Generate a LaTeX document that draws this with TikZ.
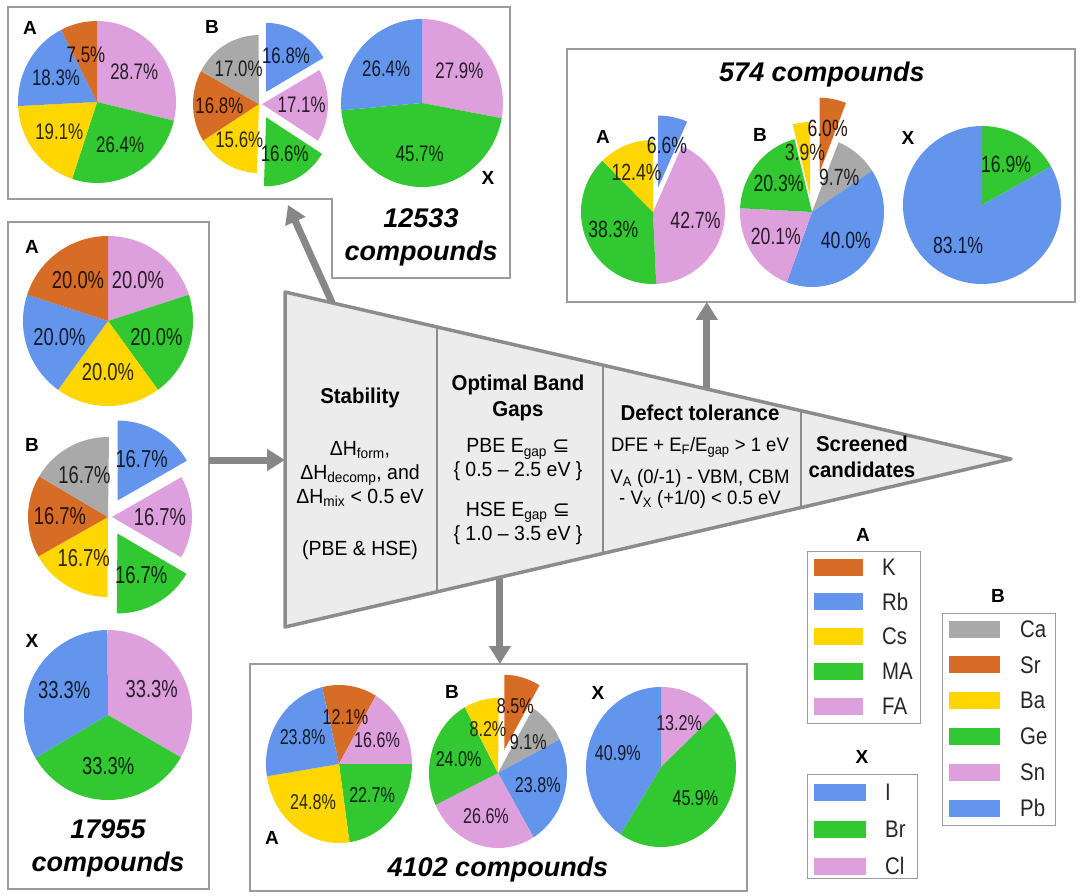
\documentclass[tikz,border=0pt]{standalone}
\usepackage{fontspec}
\setmainfont{Liberation Sans}
\newfontfamily\pctfont[FakeStretch=0.75]{Liberation Sans}
\newfontfamily\legfont[FakeStretch=0.85]{Liberation Sans}
\newfontfamily\funfont[FakeStretch=0.95]{Liberation Sans}
\newfontfamily\symfont{DejaVu Sans}
\usetikzlibrary{calc,arrows.meta}

% Colori
\definecolor{pieorange}{RGB}{214,108,38}
\definecolor{pieblue}{RGB}{100,149,237}
\definecolor{pieyellow}{RGB}{255,214,0}
\definecolor{piegreen}{RGB}{50,200,50}
\definecolor{piepink}{RGB}{221,160,221}
\definecolor{piegray}{RGB}{169,169,169}
\definecolor{boxgray}{RGB}{155,155,155}
\definecolor{arrowgray}{RGB}{135,135,135}
\definecolor{funfill}{RGB}{236,236,236}
\definecolor{funedge}{RGB}{140,140,140}

\def\pctsize{23}

\tikzset{
  panel/.style={draw=boxgray, line width=1.3pt, inner sep=0pt, outer sep=0pt},
  pctlabel/.style={font=\pctfont\fontsize{\pctsize}{\pctsize}\selectfont, inner sep=0pt},
  pieletter/.style={font=\bfseries\fontsize{19}{19}\selectfont, inner sep=0pt},
  cmpdtitle/.style={font=\bfseries\itshape\fontsize{27}{33}\selectfont, align=center, inner sep=0pt},
  funtext/.style={font=\funfont\fontsize{20.5}{24}\selectfont, align=center, inner sep=0pt},
  funhead/.style={font=\funfont\bfseries\fontsize{21.5}{26}\selectfont, align=center, inner sep=0pt},
  flowarrow/.style={draw=arrowgray, line width=7pt, -{Triangle[width=21pt,length=18pt]}},
  legtitle/.style={font=\bfseries\fontsize{19}{19}\selectfont, inner sep=0pt},
  legtext/.style={font=\legfont\fontsize{24}{24}\selectfont, text=black!85, anchor=west, inner sep=0pt},
}

% Torta: nome, centro, raggio x, raggio y, angolo iniziale, {percentuale/colore/scostamento}
\newcommand{\piechart}[6]{%
  \xdef\curang{#5}%
  \foreach \pct/\col/\off [count=\i] in {#6} {%
    \pgfmathsetmacro\nextang{\curang-3.6*\pct}%
    \pgfmathsetmacro\midang{(\curang+\nextang)/2}%
    \coordinate (#1-c\i) at ($(#2)+(\midang:\off)$);
    \fill[\col] (#1-c\i) -- ++(\curang:#3 and #4) arc[start angle=\curang, end angle=\nextang, x radius=#3, y radius=#4] -- cycle;
    \xdef\curang{\nextang}%
  }%
  \xdef\curang{#5}%
  \foreach \pct/\col/\off [count=\i] in {#6} {%
    \pgfmathsetmacro\nextang{\curang-3.6*\pct}%
    \pgfmathsetmacro\midang{(\curang+\nextang)/2}%
    \node[pctlabel, text=\col!18!black] (#1-\i) at ($(#1-c\i)+(\midang:0.6*#3 and 0.6*#4)$) {\pct\%};
    \xdef\curang{\nextang}%
  }%
}

\begin{document}
\begin{tikzpicture}[x=1pt,y=1pt]
\useasboundingbox (0,0) rectangle (1080,-896);

% Riquadri
\draw[panel] (8,-7) -- (510,-7) -- (510,-278) -- (332,-278) -- (332,-199) -- (8,-199) -- cycle;
\node[panel, minimum width=201, minimum height=667, anchor=north west] (lbox) at (8,-222) {};
\node[panel, minimum width=508, minimum height=253, anchor=north west] (trbox) at (567,-49) {};
\node[panel, minimum width=497, minimum height=227, anchor=north west] (bbox) at (250,-664) {};

% Imbuto
\coordinate (f-tl) at (285,-292);
\coordinate (f-bl) at (285,-627);
\coordinate (f-tip) at (1011,-459);
\coordinate (f-in) at (285,-460);
\coordinate (f-out1) at ($(f-tl)!0.065!(f-tip)$);
\coordinate (f-out2) at ($(f-tl)!0.581!(f-tip)$);
\coordinate (f-out3) at ($(f-bl)!0.296!(f-tip)$);
\coordinate (tl-in) at (288,-205);

% Frecce
\draw[flowarrow] (lbox.east |- f-in) -- (f-in);
\draw[flowarrow] (f-out1) -- (tl-in);
\draw[flowarrow] (f-out2) -- (f-out2 |- trbox.south);
\draw[flowarrow] (f-out3) -- (f-out3 |- bbox.north);

\draw[draw=funedge, fill=funfill, line width=3.5pt, line join=round] (f-tl) -- (f-tip) -- (f-bl) -- cycle;
\foreach \t in {0.2094,0.438,0.7107}
  \draw[funedge, line width=2.5pt] ($(f-tl)!\t!(f-tip)$) -- ($(f-bl)!\t!(f-tip)$);

\node[funhead] (stab-h) at (360,-398) {Stability};
\node[funtext] (stab-b) at (360,-474) {ΔH\textsubscript{form},\\ΔH\textsubscript{decomp}, and\\ΔH\textsubscript{mix} < 0.5 eV};
\node[funtext] (stab-c) at (360,-550) {(PBE \& HSE)};
\node[funhead] (gap-h) at (518,-398) {Optimal Band\\Gaps};
\node[funtext] (gap-p) at (518,-460) {PBE E\textsubscript{gap} {\symfont ⊆}\\\{ 0.5 – 2.5 eV \}};
\node[funtext] (gap-s) at (518,-523) {HSE E\textsubscript{gap} {\symfont ⊆}\\\{ 1.0 – 3.5 eV \}};
\node[funhead] (dt-h) at (700,-413) {Defect tolerance};
\node[funtext, font=\funfont\fontsize{19.5}{21}\selectfont] (dt-a) at (700,-447) {DFE + E\textsubscript{F}/E\textsubscript{gap} > 1 eV};
\node[funtext, font=\funfont\fontsize{19.5}{21}\selectfont] (dt-b) at (700,-489) {V\textsubscript{A} (0/-1) - VBM, CBM\\- V\textsubscript{X} (+1/0) < 0.5 eV};
\node[funhead] (scr-h) at (862,-457) {Screened\\candidates};

% 12533 composti
\def\pctsize{22.5}
\piechart{tlA}{97,-102}{79}{81}{90}{28.7/piepink/0, 26.4/piegreen/0, 19.1/pieyellow/0, 18.3/pieblue/0, 7.5/pieorange/0}
\piechart{tlB}{259,-104}{66}{69}{90}{16.8/pieblue/14, 17.1/piepink/3, 16.6/piegreen/15, 15.6/pieyellow/0, 16.8/pieorange/0, 17.0/piegray/0}
\piechart{tlX}{422,-103}{81}{84}{90}{27.9/piepink/0, 45.7/piegreen/0, 26.4/pieblue/0}
\node[pieletter] (tlA-l) at (30,-28) {A};
\node[pieletter] (tlB-l) at (212,-27) {B};
\node[pieletter] (tlX-l) at (488,-178) {X};
\node[cmpdtitle] (tl-title) at (421,-237) {12533\\compounds};

% 17955 composti
\def\pctsize{24.5}
\piechart{lA}{108,-321}{85}{85}{90}{20.0/piepink/0, 20.0/piegreen/0, 20.0/pieyellow/0, 20.0/pieblue/0, 20.0/pieorange/0}
\piechart{lB}{108,-517}{80}{80}{90}{16.7/pieblue/19, 16.7/piepink/4, 16.7/piegreen/19, 16.7/pieyellow/0, 16.7/pieorange/0, 16.7/piegray/0}
\piechart{lX}{108,-715}{84}{85}{90}{33.3/piepink/0, 33.3/piegreen/0, 33.3/pieblue/0}
\node[pieletter] (lA-l) at (32,-247) {A};
\node[pieletter] (lB-l) at (32,-445) {B};
\node[pieletter] (lX-l) at (32,-641) {X};
\node[cmpdtitle] (l-title) at (108,-848) {17955\\compounds};

% 574 composti
\def\pctsize{23.5}
\piechart{trA}{653,-212}{72}{72}{90}{6.6/pieblue/25, 42.7/piepink/0, 38.3/piegreen/0, 12.4/pieyellow/0}
\piechart{trB}{812,-212}{72}{75}{90}{6.0/pieorange/40, 9.7/piegray/0, 40.0/pieblue/0, 20.1/piepink/0, 20.3/piegreen/0, 3.9/pieyellow/15}
\piechart{trX}{982,-205}{79}{79}{90}{16.9/piegreen/0, 83.1/pieblue/0}
\node[pieletter] (trA-l) at (603,-137) {A};
\node[pieletter] (trB-l) at (760,-135) {B};
\node[pieletter] (trX-l) at (908,-138) {X};
\node[cmpdtitle] (tr-title) at (822,-75) {574 compounds};

% 4102 composti
\def\pctsize{21.5}
\piechart{bA}{339,-764}{73}{79}{103.3}{12.1/pieorange/0, 16.6/piepink/0, 22.7/piegreen/0, 24.8/pieyellow/0, 23.8/pieblue/0}
\piechart{bB}{498,-773}{69}{75}{90}{8.5/pieorange/24, 9.1/piegray/0, 23.8/pieblue/0, 26.6/piepink/0, 24.0/piegreen/0, 8.2/pieyellow/0}
\piechart{bX}{661,-767}{75}{80}{90}{13.2/piepink/0, 45.9/piegreen/0, 40.9/pieblue/0}
\node[pieletter] (bA-l) at (272,-838) {A};
\node[pieletter] (bB-l) at (452,-692) {B};
\node[pieletter] (bX-l) at (598,-693) {X};
\node[cmpdtitle] (b-title) at (498,-870) {4102 compounds};

% Legende
\node[legtitle] (legA-t) at (863,-535) {A};
\node[panel, line width=1pt, minimum width=113, minimum height=172, anchor=north west] (legA) at (807,-551) {};
\foreach \col/\lab [count=\i] in {pieorange/K, pieblue/Rb, pieyellow/Cs, piegreen/MA, piepink/FA} {
  \fill[\col] (814,{-558.5-34.75*(\i-1)}) rectangle ++(49,-17);
  \node[legtext] (legA-\i) at (882,{-567-34.75*(\i-1)}) {\lab};
}
\node[legtitle] (legX-t) at (862,-757) {X};
\node[panel, line width=1pt, minimum width=110, minimum height=104, anchor=north west] (legX) at (807,-774) {};
\foreach \col/\lab [count=\i] in {pieblue/I, piegreen/Br, piepink/Cl} {
  \fill[\col] (814,{-783.5-37*(\i-1)}) rectangle ++(52,-17);
  \node[legtext] (legX-\i) at (885,{-792-37*(\i-1)}) {\lab};
}
\node[legtitle] (legB-t) at (998,-596) {B};
\node[panel, line width=1pt, minimum width=113, minimum height=212, anchor=north west] (legB) at (942,-613) {};
\foreach \col/\lab [count=\i] in {piegray/Ca, pieorange/Sr, pieyellow/Ba, piegreen/Ge, piepink/Sn, pieblue/Pb} {
  \fill[\col] (949,{-620.5-35.8*(\i-1)}) rectangle ++(51,-17);
  \node[legtext] (legB-\i) at (1020,{-629-35.8*(\i-1)}) {\lab};
}

\end{tikzpicture}
\end{document}
